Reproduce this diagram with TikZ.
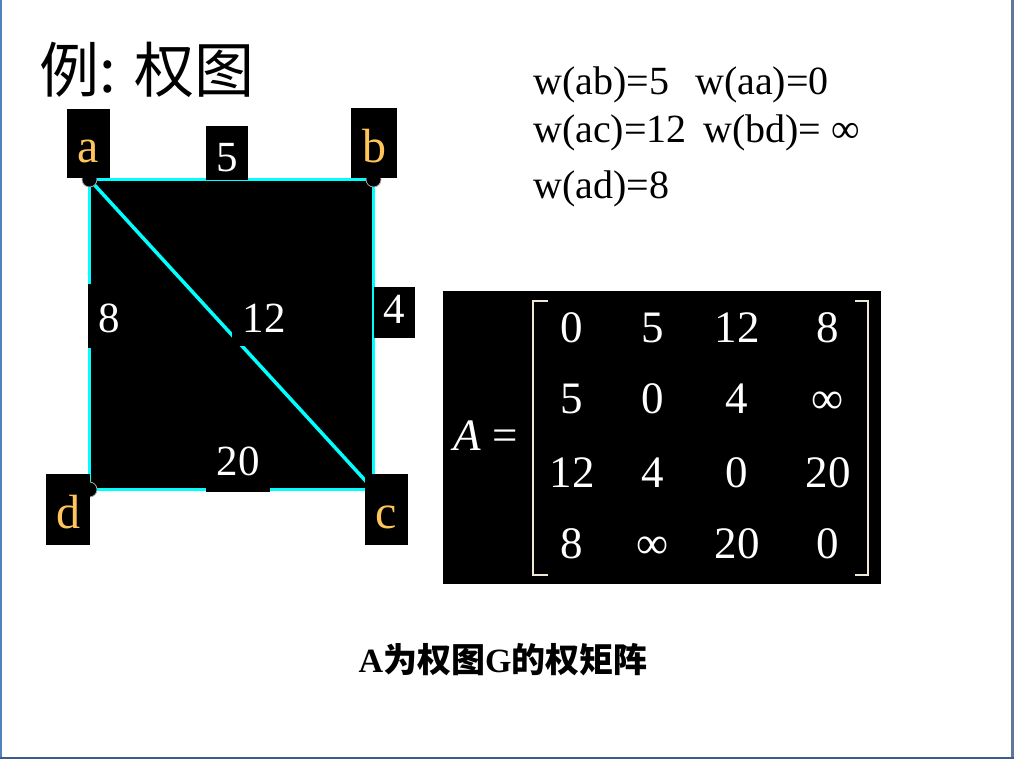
\documentclass[tikz,border=0pt]{standalone}
\usepackage{fontspec}
\setmainfont{Liberation Serif}
\newfontfamily\cjk{Noto Sans CJK SC}
\definecolor{lblorange}{RGB}{255,196,90}
\definecolor{edgecyan}{RGB}{0,255,255}
\definecolor{frameleft}{RGB}{84,130,190}
\definecolor{frameright}{RGB}{95,120,155}
\definecolor{framebottom}{RGB}{60,92,140}
\definecolor{bracketcol}{RGB}{240,232,215}
\tikzset{
  lbl/.style={fill=black, inner sep=0pt, anchor=base, text=white, font=\fontsize{43}{50}\selectfont},
  vlbl/.style={lbl, text=lblorange, font=\fontsize{48}{56}\selectfont},
  vdot/.style={circle, fill=black, draw=gray!70, line width=0.8pt, minimum size=15pt, inner sep=0pt},
  gedge/.style={edgecyan, line width=3.5pt},
  wtext/.style={anchor=base west, inner sep=0pt, font=\fontsize{40}{48}\selectfont},
  entry/.style={anchor=base, inner sep=0pt, text=white, font=\fontsize{45}{54}\selectfont},
  bracket/.style={bracketcol, line width=2pt},
}
\begin{document}
\begin{tikzpicture}[x=1pt,y=-1pt]
\useasboundingbox (0,0) rectangle (1014,759);
\fill[white] (0,0) rectangle (1014,759);
% frame
\draw[frameleft, line width=2.5pt] (1,0) -- (1,759);
\draw[frameright, line width=2.5pt] (1012.5,0) -- (1012.5,759);
\draw[framebottom, line width=2.5pt] (0,758) -- (1014,758);
% title
\node[text=black, font=\cjk\fontsize{60}{66}\selectfont] (title) at (147,70) {例: 权图};
% graph
\coordinate (a) at (89.5,179.5);
\coordinate (b) at (373.5,179.5);
\coordinate (c) at (373.5,489.5);
\coordinate (d) at (89.5,489.5);
\fill[black] (a) rectangle (c);
\draw[gedge] (a) -- (b);
\draw[gedge] (b) -- (c);
\draw[gedge] (c) -- (d);
\draw[gedge] (d) -- (a);
\draw[gedge] (a) -- (c);
\node[vdot] (da) at (a) {};
\node[vdot] (db) at (b) {};
\node[vdot] (dc) at (c) {};
\node[vdot] (dd) at (d) {};
% vertex labels
\node[vlbl, minimum width=43pt, text height=54pt, text depth=15pt] (la) at (88.5,163) {a};
\node[vlbl, minimum width=46pt, text height=55pt, text depth=15pt] (lb) at (374,163) {b};
\node[vlbl, minimum width=43pt, text height=54pt, text depth=17pt] (lc) at (386.5,528) {c};
\node[vlbl, minimum width=44pt, text height=54pt, text depth=17pt] (ld) at (68,528) {d};
% weight labels
\node[lbl, minimum width=42pt, text height=46pt, text depth=8pt] (wab) at (227,172) {5};
\node[lbl, minimum width=42pt, text height=48pt, text depth=16pt] (wad) at (109,332) {8};
\node[lbl, minimum width=64pt, text height=42pt, text depth=14pt] (wac) at (264,332) {12};
\node[lbl, minimum width=41pt, text height=36pt, text depth=15pt] (wbc) at (394.5,323) {4};
\node[lbl, minimum width=64pt, text height=35pt, text depth=17pt] (wcd) at (238,475) {20};
% weight list
\node[wtext] (t1) at (533,95) {w(ab)=5};
\node[wtext] (t2) at (695,95) {w(aa)=0};
\node[wtext] (t3) at (533,143) {w(ac)=12};
\node[wtext] (t4) at (703,143) {w(bd)= ∞};
\node[wtext] (t5) at (533,199) {w(ad)=8};
% matrix
\fill[black] (443,291) rectangle (881,584);
\node[entry, anchor=base west] (lhs) at (453,450) {\textit{A} =};
\draw[bracket] (548,301) -- (533,301) -- (533,575) -- (548,575);
\draw[bracket] (855,301) -- (868,301) -- (868,575) -- (855,575);
\node[entry] (m11) at (572,342) {0};
\node[entry] (m12) at (653,342) {5};
\node[entry] (m13) at (737,342) {12};
\node[entry] (m14) at (828,342) {8};
\node[entry] (m21) at (572,413) {5};
\node[entry] (m22) at (653,413) {0};
\node[entry] (m23) at (737,413) {4};
\node[entry] (m24) at (828,413) {∞};
\node[entry] (m31) at (572,487) {12};
\node[entry] (m32) at (653,487) {4};
\node[entry] (m33) at (737,487) {0};
\node[entry] (m34) at (828,487) {20};
\node[entry] (m41) at (572,558) {8};
\node[entry] (m42) at (653,558) {∞};
\node[entry] (m43) at (737,558) {20};
\node[entry] (m44) at (828,558) {0};
% caption
\node[font=\fontsize{34}{40}\selectfont\bfseries] (caption) at (503,660) {A{\cjk 为权图}G{\cjk 的权矩阵}};
\end{tikzpicture}
\end{document}
